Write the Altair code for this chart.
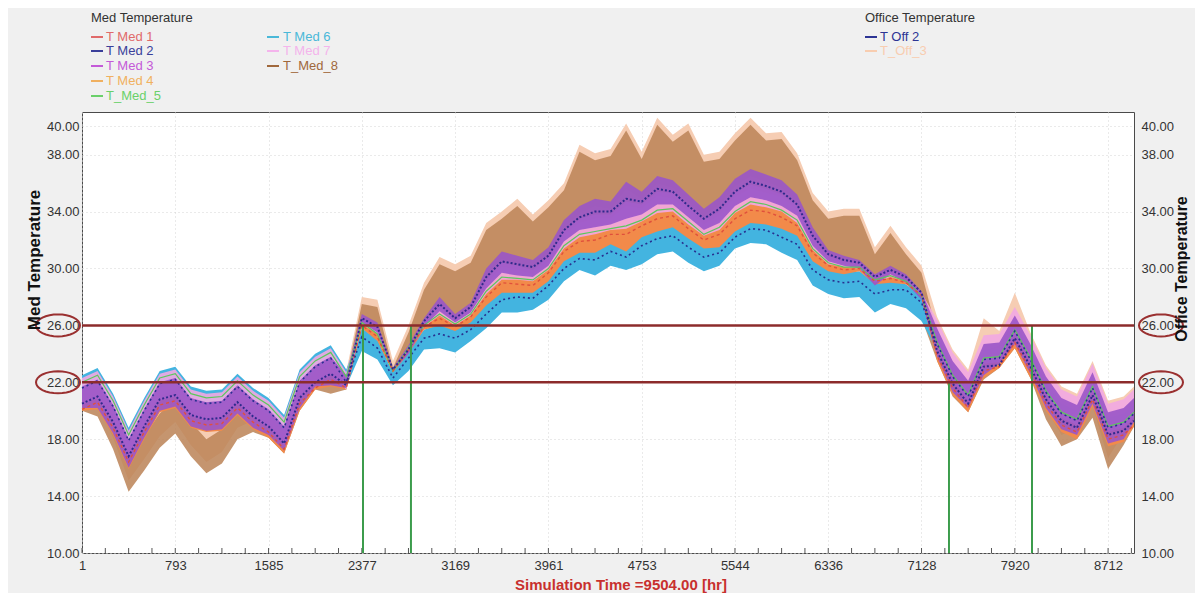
import math
import altair as alt
import pandas as pd

# ---------------- data ----------------
hours = [1 + 132 * i for i in range(68)] + [8933]

brown_lo = [20.0, 19.6, 17.3, 14.3, 15.8, 17.4, 18.4, 16.8, 15.6, 16.3, 18.0, 18.5, 18.1, 17.0, 20.0, 21.5, 21.2, 21.5,
            26.2, 25.5, 22.6, 24.2, 26.0, 27.1, 26.2, 26.9, 28.9, 30.1, 29.9, 29.6, 30.5, 32.3, 33.2, 33.5, 33.5, 34.4, 34.2,
            35.1, 34.9, 34.0, 33.1, 33.7, 35.0, 35.6, 35.3, 35.0, 34.1, 31.9, 30.6, 30.3, 30.1, 29.0, 29.6, 29.2, 26.5,
            23.5, 21.0, 19.9, 22.2, 23.0, 24.4, 22.3, 19.4, 17.5, 18.0, 19.5, 15.9, 17.6, 18.9]
brown_hi = [22.0, 22.0, 19.7, 16.7, 18.2, 19.8, 20.8, 19.2, 18.0, 18.7, 20.4, 20.9, 20.4, 19.2, 22.4, 23.5, 23.6, 22.4,
            27.5, 27.3, 23.0, 25.5, 28.5, 30.3, 29.8, 30.4, 32.7, 33.5, 34.4, 33.3, 34.3, 35.5, 38.2, 37.6, 37.9, 39.7, 37.7,
            40.1, 38.9, 39.7, 37.5, 37.7, 39.0, 40.1, 39.0, 39.1, 37.6, 34.8, 33.5, 33.7, 33.7, 31.0, 32.5, 31.0, 29.7,
            25.5, 23.0, 21.9, 24.2, 24.6, 26.4, 24.3, 21.4, 19.5, 20.0, 21.5, 17.9, 19.6, 20.7]
peach_lo = [20.8, 20.4, 18.1, 15.1, 16.6, 18.2, 19.2, 17.6, 16.4, 17.1, 18.8, 19.3, 18.9, 17.8, 20.8, 22.3, 22.0, 22.3,
            26.3, 25.7, 22.5, 24.0, 26.0, 27.5, 26.3, 27.1, 29.5, 30.7, 30.4, 30.1, 31.0, 32.9, 33.9, 34.4, 34.2, 35.6, 34.9,
            36.0, 35.7, 34.7, 33.7, 34.5, 35.8, 36.5, 36.1, 35.7, 34.7, 32.4, 30.8, 30.4, 30.1, 29.1, 29.7, 29.1, 27.9,
            24.3, 21.8, 20.7, 23.0, 23.8, 25.2, 23.1, 20.2, 18.3, 18.8, 20.3, 16.7, 18.4, 19.7]
peach_hi = [22.4, 22.9, 21.1, 18.7, 20.8, 22.7, 23.0, 21.6, 21.3, 21.4, 22.5, 21.5, 20.8, 19.6, 22.8, 23.9, 24.5, 22.8,
            28.0, 27.8, 23.5, 26.0, 29.0, 30.8, 30.3, 30.9, 33.2, 34.0, 34.9, 33.8, 34.8, 36.0, 38.7, 38.1, 38.4, 40.2, 38.2,
            40.6, 39.4, 40.2, 38.0, 38.2, 39.5, 40.6, 39.5, 39.6, 38.1, 35.3, 34.0, 34.2, 34.2, 31.5, 33.0, 31.5, 30.2,
            26.6, 24.3, 22.9, 26.5, 25.6, 28.3, 25.5, 23.2, 21.7, 21.2, 23.5, 20.7, 21.0, 21.7]
purple_lo = [20.2, 20.2, 18.4, 16.0, 18.1, 20.0, 20.3, 18.9, 18.6, 18.7, 19.8, 18.8, 18.3, 17.2, 20.2, 21.7, 21.8, 21.6,
             26.2, 25.5, 22.8, 24.0, 25.9, 27.0, 26.2, 26.9, 28.6, 29.7, 29.5, 29.4, 30.2, 31.9, 32.7, 32.9, 33.1, 33.5, 33.8,
             34.5, 34.5, 33.6, 32.7, 33.2, 34.4, 35.0, 34.8, 34.4, 33.7, 31.6, 30.5, 30.2, 30.0, 28.8, 29.6, 29.0, 27.8,
             23.8, 21.3, 20.2, 22.5, 23.3, 24.7, 22.6, 20.2, 18.7, 18.3, 20.5, 17.7, 18.0, 19.2]
purple_hi = [21.7, 22.2, 20.4, 18.0, 20.1, 22.0, 22.3, 20.9, 20.6, 20.7, 21.8, 20.8, 20.1, 18.9, 22.1, 23.2, 23.8, 22.5,
             26.8, 26.2, 23.0, 24.6, 26.5, 28.0, 26.8, 27.6, 30.0, 31.2, 30.9, 30.6, 31.5, 33.4, 34.4, 34.9, 34.7, 36.1, 35.4,
             36.5, 36.2, 35.2, 34.2, 35.0, 36.3, 37.0, 36.6, 36.2, 35.2, 32.9, 31.3, 30.9, 30.6, 29.6, 30.2, 29.6, 28.4,
             25.8, 23.5, 22.1, 24.7, 24.8, 26.7, 24.7, 22.4, 20.9, 20.4, 22.7, 19.9, 20.2, 20.9]
pink_lo = [20.4, 20.9, 19.1, 16.7, 18.8, 20.7, 21.0, 19.6, 19.3, 19.4, 20.5, 19.5, 18.8, 17.6, 20.8, 21.9, 22.5, 21.5,
           26.1, 25.4, 22.8, 24.2, 25.9, 26.7, 26.0, 26.7, 28.2, 29.2, 29.2, 29.1, 29.9, 31.4, 32.2, 32.4, 32.7, 32.8, 33.3,
           33.9, 34.0, 33.1, 32.3, 32.7, 33.9, 34.5, 34.3, 34.0, 33.2, 31.3, 30.3, 30.1, 30.0, 29.0, 29.4, 29.1, 28.1,
           24.4, 22.1, 20.7, 23.3, 23.4, 25.3, 23.3, 21.0, 19.5, 19.0, 21.3, 18.5, 18.8, 19.5]
pink_hi = [22.3, 22.8, 21.0, 18.6, 20.7, 22.6, 22.9, 21.5, 21.2, 21.3, 22.4, 21.4, 20.7, 19.5, 22.7, 23.8, 24.4, 22.7,
           26.5, 25.8, 22.9, 24.5, 26.3, 27.4, 26.5, 27.2, 29.2, 30.4, 30.2, 29.9, 30.8, 32.6, 33.5, 33.8, 33.8, 34.7, 34.5,
           35.4, 35.3, 34.3, 33.4, 34.0, 35.3, 35.9, 35.6, 35.2, 34.4, 32.2, 30.9, 30.5, 30.4, 29.4, 29.9, 29.4, 28.3,
           26.4, 24.1, 22.7, 25.3, 25.4, 27.3, 25.3, 23.0, 21.5, 21.0, 23.3, 20.5, 20.8, 21.5]
orange_lo = [20.0, 20.1, 18.3, 15.9, 18.0, 19.9, 20.2, 18.8, 18.5, 18.6, 19.7, 18.7, 18.1, 17.0, 20.0, 21.5, 21.7, 21.5,
             25.8, 24.9, 22.7, 24.0, 25.7, 26.0, 25.6, 26.2, 27.4, 28.3, 28.3, 28.3, 29.1, 30.5, 31.1, 31.1, 31.7, 31.2, 32.2,
             32.6, 32.9, 32.1, 31.4, 31.5, 32.6, 33.2, 33.1, 32.8, 32.3, 30.5, 29.8, 29.6, 29.8, 28.9, 29.0, 28.9, 28.0,
             23.5, 21.1, 19.9, 22.3, 23.0, 24.4, 22.3, 20.0, 18.5, 18.0, 20.3, 17.5, 17.8, 18.9]
orange_hi = [20.8, 21.3, 19.5, 17.1, 19.2, 21.1, 21.4, 20.0, 19.7, 19.8, 20.9, 19.9, 19.2, 18.0, 21.2, 22.3, 22.9, 21.8,
             26.2, 25.5, 22.8, 24.4, 26.1, 27.0, 26.2, 26.9, 28.6, 29.7, 29.5, 29.4, 30.2, 31.9, 32.7, 32.9, 33.1, 33.5, 33.8,
             34.5, 34.5, 33.6, 32.7, 33.2, 34.4, 35.0, 34.8, 34.4, 33.7, 31.6, 30.5, 30.2, 30.2, 29.3, 29.6, 29.2, 28.2,
             24.6, 22.3, 20.9, 23.5, 23.6, 25.5, 23.5, 21.2, 19.7, 19.2, 21.5, 18.7, 19.0, 19.7]
cyan_lo = [21.3, 21.8, 20.0, 17.6, 19.7, 21.6, 21.9, 20.5, 20.2, 20.3, 21.4, 20.4, 19.7, 18.5, 21.7, 22.8, 23.4, 21.7,
           24.2, 23.6, 21.8, 22.8, 24.3, 24.4, 24.1, 24.9, 25.8, 26.9, 26.9, 27.1, 27.8, 29.1, 29.9, 29.5, 30.2, 29.9, 30.3,
           31.0, 31.2, 30.4, 29.8, 30.2, 31.4, 31.8, 31.7, 31.1, 30.6, 28.8, 28.2, 27.9, 28.0, 26.9, 27.5, 27.2, 26.3,
           24.2, 21.9, 20.5, 23.1, 23.2, 25.1, 23.1, 20.8, 19.3, 18.8, 21.1, 18.3, 18.6, 19.3]
cyan_hi = [22.5, 23.0, 21.2, 18.8, 20.9, 22.8, 23.1, 21.7, 21.4, 21.5, 22.6, 21.6, 20.9, 19.7, 22.9, 24.0, 24.6, 22.9,
           25.8, 25.0, 22.7, 24.3, 25.7, 26.1, 25.7, 26.3, 27.5, 28.4, 28.4, 28.4, 29.2, 30.6, 31.3, 31.3, 31.8, 31.4, 32.4,
           32.8, 33.1, 32.2, 31.5, 31.7, 32.8, 33.4, 33.3, 33.0, 32.4, 30.6, 29.9, 29.7, 29.8, 29.0, 29.1, 28.9, 28.0,
           25.4, 23.1, 21.7, 24.3, 24.4, 26.3, 24.3, 22.0, 20.5, 20.0, 22.3, 19.5, 19.8, 20.5]
t_med_5 = [22.0, 22.5, 20.7, 18.3, 20.4, 22.3, 22.6, 21.2, 20.9, 21.0, 22.1, 21.1, 20.4, 19.2, 22.4, 23.5, 24.1, 22.4,
           26.2, 25.4, 22.8, 24.4, 26.0, 26.8, 26.1, 26.8, 28.4, 29.4, 29.3, 29.2, 30.0, 31.6, 32.4, 32.6, 32.8, 33.0, 33.4,
           34.1, 34.2, 33.3, 32.4, 32.9, 34.0, 34.7, 34.5, 34.1, 33.4, 31.4, 30.4, 30.1, 30.1, 29.2, 29.5, 29.1, 28.1,
           24.8, 22.5, 21.1, 23.7, 23.8, 25.7, 23.7, 21.4, 19.9, 19.4, 21.7, 18.9, 19.2, 19.9]
t_med_2 = [20.5, 21.0, 19.2, 16.8, 18.9, 20.8, 21.1, 19.7, 19.4, 19.5, 20.6, 19.6, 18.9, 17.7, 20.9, 22.0, 22.6, 21.8,
           26.5, 25.9, 22.9, 24.3, 26.3, 27.5, 26.5, 27.3, 29.4, 30.5, 30.3, 30.1, 30.9, 32.7, 33.6, 34.0, 34.0, 34.9, 34.7,
           35.6, 35.4, 34.4, 33.5, 34.2, 35.4, 36.1, 35.8, 35.4, 34.5, 32.3, 31.0, 30.6, 30.4, 29.4, 29.9, 29.4, 28.3,
           24.2, 21.9, 20.5, 23.1, 23.2, 25.1, 23.1, 20.8, 19.3, 18.8, 21.1, 18.3, 18.6, 19.3]
t_off_2 = [21.6, 22.1, 20.3, 17.9, 20.0, 21.9, 22.2, 20.8, 20.5, 20.6, 21.7, 20.7, 20.0, 18.8, 22.0, 23.1, 23.7, 22.0,
           25.2, 24.4, 22.3, 23.7, 25.1, 25.4, 25.1, 25.7, 26.8, 27.8, 28.0, 27.9, 28.8, 30.0, 30.7, 30.6, 31.2, 30.8, 31.6,
           32.1, 32.3, 31.5, 30.8, 31.1, 32.2, 32.8, 32.7, 32.2, 31.7, 29.9, 29.2, 29.0, 29.1, 28.2, 28.5, 28.5, 27.6,
           24.7, 22.4, 21.0, 23.6, 23.7, 25.6, 23.6, 21.3, 19.8, 19.3, 21.6, 18.8, 19.1, 19.8]
t_med_1 = [20.1, 20.6, 18.8, 16.4, 18.5, 20.4, 20.7, 19.3, 19.0, 19.1, 20.2, 19.2, 18.5, 17.3, 20.5, 21.6, 22.2, 21.6,
           26.0, 25.2, 22.8, 24.3, 25.9, 26.5, 25.9, 26.6, 28.0, 29.0, 28.9, 28.8, 29.7, 31.2, 31.9, 32.0, 32.4, 32.4, 33.0,
           33.5, 33.7, 32.8, 32.0, 32.4, 33.5, 34.1, 34.0, 33.6, 33.0, 31.1, 30.2, 29.9, 30.0, 29.1, 29.3, 29.0, 28.1,
           23.9, 21.6, 20.2, 22.8, 23.1, 24.8, 22.8, 20.5, 19.0, 18.5, 20.8, 18.0, 18.3, 19.0]

thresholds = [26, 22]
cross_hours = [2387, 2794, 7362, 8067]
cross_temp = [26, 26, 22, 26]
cross_floor = [10, 10, 10, 10]

x_labels = [1, 793, 1585, 2377, 3169, 3961, 4753, 5544, 6336, 7128, 7920, 8712]
y_labels = [10, 14, 18, 22, 26, 30, 34, 38, 40]
minor_ticks = list(range(1, 8933, 198))

med_col1 = ["T Med 1", "T Med 2", "T Med 3", "T Med 4", "T_Med_5"]
med_col2 = ["T Med 6", "T Med 7", "T_Med_8"]
office_items = ["T Off 2", "T_Off_3"]

# ---------------- styling ----------------
W, H = 1052, 441
FONT = "Liberation Sans"
C_MED1, C_MED2, C_MED3, C_MED4, C_MED5 = "#e06a6a", "#3a3f9a", "#c45ad8", "#f0b060", "#6ad06a"
C_MED6, C_MED7, C_MED8 = "#4ab8d8", "#f4b4ec", "#a0683c"
C_OFF2, C_OFF3 = "#2c3494", "#f8cdb0"

series = {
    "hour": hours, "brown_lo": brown_lo, "brown_hi": brown_hi, "peach_lo": peach_lo, "peach_hi": peach_hi,
    "purple_lo": purple_lo, "purple_hi": purple_hi, "pink_lo": pink_lo, "pink_hi": pink_hi,
    "orange_lo": orange_lo, "orange_hi": orange_hi, "cyan_lo": cyan_lo, "cyan_hi": cyan_hi,
    "t_med_5": t_med_5, "t_med_2": t_med_2, "t_off_2": t_off_2, "t_med_1": t_med_1,
}
for k, v in series.items():
    assert len(v) == len(hours), (k, len(v))
df = pd.DataFrame(series)

x_scale = alt.Scale(domain=[1, 8933], nice=False, zero=False)
y_scale = alt.Scale(domain=[10, 41], nice=False, zero=False)
x_axis = alt.Axis(values=x_labels, title=None, format="d", labelFontSize=13, labelColor="#333", labelFont=FONT,
                  ticks=False, domain=False, labelPadding=6, grid=True, gridColor="#d4d4d4",
                  gridDash=[1, 3], labelFlush=False)
y_axis = alt.Axis(values=y_labels, title=None, format=".2f", labelFontSize=13, labelColor="#333",
                  labelFont=FONT, ticks=False, domain=False, labelPadding=3, grid=True,
                  gridColor="#d4d4d4", gridDash=[1, 3], orient="left")
y_axis_r = alt.Axis(values=y_labels, title=None, format=".2f", labelFontSize=13, labelColor="#333",
                    labelFont=FONT, ticks=False, domain=False, labelPadding=7, grid=False, orient="right")

X = alt.X("hour:Q", scale=x_scale, axis=x_axis)


def band(lo, hi, color, opacity=1.0):
    return alt.Chart(df).mark_area(color=color, opacity=opacity).encode(
        x=X, y=alt.Y(f"{hi}:Q", scale=y_scale, axis=y_axis), y2=alt.Y2(f"{lo}:Q"))


def line(field, color, width=1.6, dash=None):
    kw = dict(color=color, strokeWidth=width)
    if dash:
        kw["strokeDash"] = dash
    return alt.Chart(df).mark_line(**kw).encode(
        x=X, y=alt.Y(f"{field}:Q", scale=y_scale, axis=y_axis))


layers = [
    band("peach_lo", "peach_hi", "#f6cdb3"),
    band("brown_lo", "brown_hi", "#bb8256", 0.85),
    band("cyan_lo", "cyan_hi", "#43b4e0"),
    band("orange_lo", "orange_hi", "#f28a4a"),
    band("pink_lo", "pink_hi", "#f2a8e2", 0.9),
    band("purple_lo", "purple_hi", "#9a55c8", 0.9),
    line("t_med_5", "#5cc85c", 1.2),
    line("t_med_1", "#e0503c", 1.4, [3, 3]),
    line("t_off_2", "#283090", 1.6, [2, 3]),
    line("t_med_2", "#2e2a8c", 2.0, [2, 2]),
]

ticks_df = pd.DataFrame({"hour": minor_ticks})
layers.append(alt.Chart(ticks_df).mark_rule(color="#555", strokeWidth=1).encode(
    x=X, y=alt.value(H), y2=alt.value(H - 5)))

cross_df = pd.DataFrame({"hour": cross_hours, "temp": cross_temp, "floor": cross_floor})
layers.append(alt.Chart(cross_df).mark_rule(color="#3c9c4c", strokeWidth=2).encode(
    x=X, y=alt.Y("temp:Q", scale=y_scale, axis=y_axis), y2="floor:Q"))

# ellipses around the 26 / 22 labels
pts = []
for k in range(33):
    t = 2 * math.pi * k / 32
    pts.append(f"{math.cos(t):.3f} {0.5 * math.sin(t):.3f}")
ellipse_path = "M " + " L ".join(pts) + " Z"
thr_df = pd.DataFrame({"thr": thresholds})
for ex in (-24, 1079):
    layers.append(alt.Chart(thr_df).mark_point(shape=ellipse_path, size=44 * 44, filled=False,
                                               stroke="#9a3030", strokeWidth=2, opacity=1).encode(
        x=alt.value(ex), y=alt.Y("thr:Q", scale=y_scale, axis=y_axis)))

one = pd.DataFrame({"a": [0]})


def text(s, x, y, size=13, color="#333", weight="normal", angle=0, align="left"):
    kw = dict(text=s, fontSize=size, color=color, fontWeight=weight, font=FONT, align=align,
              baseline="middle")
    if angle:
        kw["angle"] = angle
    return alt.Chart(one).mark_text(**kw).encode(x=alt.value(x), y=alt.value(y))


def swatch(x, y, color):
    return alt.Chart(one).mark_rule(color=color, strokeWidth=2).encode(
        x=alt.value(x), x2=alt.value(x + 12), y=alt.value(y))


layers.append(text("Med Temperature", 9, -94))
rows = [-75, -61, -46, -31, -16]
for name, color, yy in zip(med_col1, [C_MED1, C_MED2, C_MED3, C_MED4, C_MED5], rows):
    layers.append(swatch(9, yy, color))
    layers.append(text(name, 24, yy, color=color))
for name, color, yy in zip(med_col2, [C_MED6, C_MED7, C_MED8], rows):
    layers.append(swatch(185, yy, color))
    layers.append(text(name, 201, yy, color=color))
layers.append(text("Office Temperature", 783, -94))
for name, color, yy in zip(office_items, [C_OFF2, C_OFF3], rows):
    layers.append(swatch(783, yy, color))
    layers.append(text(name, 798, yy, color=color))

layers.append(text("Med  Temperature", -47, 148, size=17, color="#111", weight="bold", angle=270, align="center"))
layers.append(text("Office Temperature", 1100, 157, size=16, color="#111", weight="bold", angle=270, align="center"))
layers.append(text("Simulation Time =9504.00 [hr]", 539, 473, size=15, color="#c8302e", weight="bold", align="center"))

inner = alt.layer(*layers)

right = alt.Chart(thr_df).mark_rule(color="#8c2b2b", strokeWidth=2.5).encode(
    y=alt.Y("thr:Q", scale=y_scale, axis=y_axis_r))

chart = alt.layer(inner, right).resolve_scale(y="independent").properties(
    width=W, height=H,
    autosize=alt.AutoSizeParams(type="none"),
    padding={"left": 74, "top": 104, "right": 61, "bottom": 40},
    background="#f0f0f0",
).configure_view(fill="white", stroke="#4a4a4a", strokeWidth=1)

chart.save("out.html", embed_options={"renderer": "svg", "actions": False})
